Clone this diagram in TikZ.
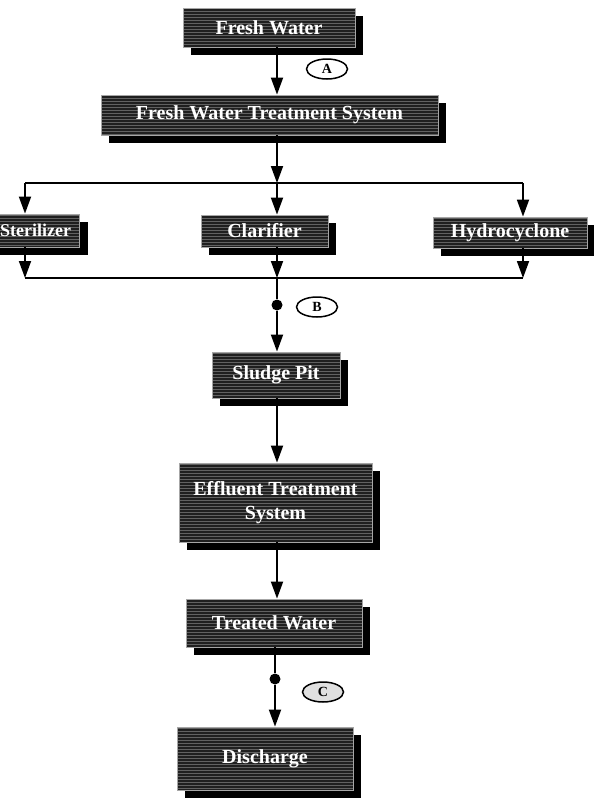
\documentclass[tikz,border=0pt]{standalone}
\usepackage{fontspec}
\setmainfont{Liberation Serif}
\usepackage{tikz}
\usetikzlibrary{
  calc,
  shapes.geometric,
  arrows.meta,
  shadows,
  patterns,
}
\tikzset{
  meta box/.style={
    draw=black!35,
    line width=0.8pt,
    text centered,
    inner sep=0pt
  },
  stage/.style={
    general shadow={fill=black, shadow xshift=8pt, shadow yshift=-8pt},
    preaction={fill=black!88},
    meta box,
    rectangle,
    pattern=horizontal lines,
    pattern color=black!62,
    text=white,
    font=\bfseries\fontsize{20}{24}\selectfont,
    align=center
  },
  tag/.style={
    draw,
    black,
    line width=1.5pt,
    ellipse,
    fill=white,
    inner sep=0pt,
    minimum width=41pt,
    minimum height=20pt,
    font=\bfseries\fontsize{14}{14}\selectfont
  },
  dot/.style={
    circle,
    fill=black,
    inner sep=0pt,
    minimum size=11pt
  },
  pipe/.style={
    line width=1.8pt
  },
  flow/.style={
    pipe,
    -{Triangle[length=17pt,width=12pt]}
  }
}

\begin{document}
\begin{tikzpicture}[x=1pt, y=-1pt]
  \useasboundingbox (0,0) rectangle (594,798);

  \node[stage, minimum width=172pt, minimum height=39pt] (fresh) at (269,27.5) {Fresh Water};
  \node[stage, minimum width=337pt, minimum height=40pt] (fwts) at (269.5,115) {Fresh Water Treatment System};
  \node[stage, minimum width=88pt, minimum height=33pt, anchor=east,
        font=\bfseries\fontsize{18}{22}\selectfont] (steril) at (80,230.5) {Sterilizer};
  \node[stage, minimum width=127pt, minimum height=32pt] (clar) at (264.5,231) {Clarifier};
  \node[stage, minimum width=154pt, minimum height=31pt] (hydro) at (510,232.5) {Hydrocyclone};
  \node[stage, minimum width=128pt, minimum height=46pt] (sludge) at (276,375) {Sludge Pit};
  \node[stage, minimum width=193pt, minimum height=79pt] (effl) at (275.5,502.5) {Effluent Treatment\\System};
  \node[stage, minimum width=176pt, minimum height=48pt] (treated) at (274,623) {Treated Water};
  \node[stage, minimum width=176pt, minimum height=63pt] (disch) at (265,758.5) {Discharge};

  \coordinate (spine) at (277,0);
  \coordinate (splitL) at (25,183);
  \coordinate (splitR) at (523,183);
  \coordinate (mergeL) at (25,278);
  \coordinate (mergeR) at (523,278);
  \node[dot] (dotB) at (277,305) {};
  \node[dot] (dotC) at (275,679) {};

  \node[tag] (tagA) at (327,69) {A};
  \node[tag] (tagB) at (317,307) {B};
  \node[tag, fill=black!12] (tagC) at (323,692) {C};

  % main line and the split
  \draw[flow] (fresh.south -| spine) -- (fwts.north -| spine);
  \draw[flow] (fwts.south -| spine) -- (splitL -| spine);
  \draw[pipe] (splitL) -- (splitR);
  \draw[flow] (splitL) -- (steril.north -| splitL);
  \draw[flow] (splitL -| spine) -- (clar.north -| spine);
  \draw[flow] (splitR) -- (hydro.north -| splitR);

  % merge
  \draw[flow] (steril.south -| mergeL) -- (mergeL);
  \draw[flow] (clar.south -| spine) -- (mergeL -| spine);
  \draw[flow] (hydro.south -| mergeR) -- (mergeR);
  \draw[pipe] (mergeL) -- (mergeR);

  \draw[flow] (mergeL -| spine) -- (dotB) -- (sludge.north -| spine);
  \draw[flow] (sludge.south -| spine) -- (effl.north -| spine);
  \draw[flow] (effl.south -| spine) -- (treated.north -| spine);
  \draw[flow] (treated.south -| dotC) -- (dotC) -- (disch.north -| dotC);
\end{tikzpicture}
\end{document}
